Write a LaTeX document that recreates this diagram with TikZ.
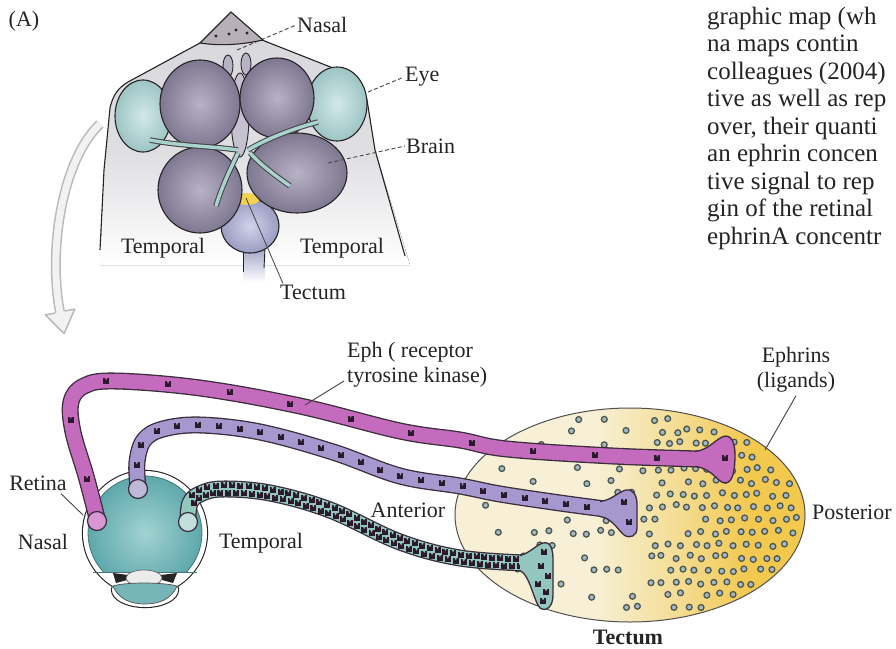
\documentclass[tikz,border=0pt]{standalone}
\usepackage{fontspec}
\setmainfont{Liberation Serif}
\usetikzlibrary{decorations.markings}

\definecolor{inkC}{HTML}{262326}
\definecolor{pinkT}{HTML}{C46BBE}
\definecolor{pinkS}{HTML}{D996D3}
\definecolor{purT}{HTML}{A698CF}
\definecolor{purS}{HTML}{BEB8D9}
\definecolor{tealT}{HTML}{94C6C0}
\definecolor{tealS}{HTML}{C2DEDD}
\definecolor{tubeline}{HTML}{3A2C3A}
\definecolor{rdark}{HTML}{2B1A2B}
\definecolor{eyeT}{HTML}{5EA8AC}
\definecolor{eyeL}{HTML}{A2D2D2}
\definecolor{tecL}{HTML}{F7F0D6}
\definecolor{tecM}{HTML}{F4DC92}
\definecolor{tecR}{HTML}{F2C84F}
\definecolor{dotF}{HTML}{A6B8CA}
\definecolor{dotR}{HTML}{4C584A}
\definecolor{lobeC}{HTML}{7E7790}
\definecolor{lobeL}{HTML}{B8B2C6}
\definecolor{hindC}{HTML}{9A9CC2}
\definecolor{hindL}{HTML}{D0D3EA}
\definecolor{nerveC}{HTML}{A9D3CE}
\definecolor{headG}{HTML}{D9D9DD}
\definecolor{noseC}{HTML}{B9AFB9}
\definecolor{spotY}{HTML}{F2D24E}
\definecolor{headEyeL}{HTML}{D2E8E8}
\definecolor{headEyeD}{HTML}{9EC4C4}

\pgfdeclarehorizontalshading{tecshade}{100bp}{color(0bp)=(tecL); color(45bp)=(tecL); color(57bp)=(tecM); color(67bp)=(tecR); color(100bp)=(tecR)}

\begin{document}
\begin{tikzpicture}[x=1pt,y=-1pt,
  lbl/.style={font=\fontsize{22}{25}\selectfont, inner sep=0pt, text=inkC},
  col/.style={font=\fontsize{25}{28}\selectfont, inner sep=0pt, anchor=base west, text=inkC},
  leader/.style={draw=inkC!85, line width=0.9pt},
  dashleader/.style={leader, dash pattern=on 4pt off 2.5pt},
  outl/.style={draw=inkC, line width=1.1pt},
  coneline/.style={draw=tubeline, line width=1.3pt},
  pics/rcp/.style={code={
    \fill[rdark] (-3,-3) rectangle (3,3);
    \fill[#1] (-1.2,-3.2) -- (0,-0.7) -- (1.2,-3.2) -- cycle;
  }},
]
\useasboundingbox (0,0) rectangle (896,648);
\fill[white] (0,0) rectangle (896,648);

%================ upper drawing: head seen from above ================
% head
\fill[top color=headG, bottom color=white, middle color=headG!85!white]
  (100,265) -- (104,170) -- (110,108) .. controls (113,95) and (118,88) .. (128,82)
  -- (200,43) -- (262,40) -- (333,68) .. controls (350,75) and (362,85) .. (367,100)
  -- (375,150) -- (410,265) -- cycle;
\draw[outl] (100,250) -- (104,170) -- (110,108) .. controls (113,95) and (118,88) .. (128,82) -- (200,43);
\draw[outl] (262,40) -- (333,68) .. controls (350,75) and (362,85) .. (367,100) -- (375,150) -- (405,256);
% snout
\filldraw[fill=noseC, draw=inkC, line width=1.1pt]
  (200,43) -- (231,12) -- (263,40) .. controls (240,45) and (220,46) .. (200,43) -- cycle;
\foreach \p in {(216,36),(236,30),(247,33),(229,34)} \fill[inkC] \p circle (1.6);

% eyes
\shade[inner color=headEyeL, outer color=headEyeD] (143,116) ellipse [x radius=28, y radius=36];
\draw[outl] (143,116) ellipse [x radius=28, y radius=36];
\shade[inner color=headEyeL, outer color=headEyeD] (337,104) ellipse [x radius=30, y radius=37];
\draw[outl] (337,104) ellipse [x radius=30, y radius=37];

% olfactory bulbs and midline
\filldraw[fill=lobeL, draw=inkC, line width=0.9pt] (228,66) ellipse [x radius=5, y radius=11];
\filldraw[fill=lobeL, draw=inkC, line width=0.9pt] (246,64) ellipse [x radius=5, y radius=11];
\filldraw[fill=lobeL!80!white, draw=inkC, line width=0.9pt] (240,115) ellipse [x radius=9, y radius=42];

% hindbrain and spinal cord
\shade[top color=hindC, bottom color=white] (243,245) rectangle (265,282);
\draw[inkC, line width=0.9pt] (243,248) -- (243,272);
\draw[inkC, line width=0.9pt] (265,248) -- (264,268);
\shade[inner color=hindL, outer color=hindC] (250,226) ellipse [x radius=29, y radius=27];
\draw[outl] (250,226) ellipse [x radius=29, y radius=27];
\fill[spotY] (247,199) ellipse [x radius=13, y radius=6];

% hemispheres and optic lobes
\shade[inner color=lobeL, outer color=lobeC] (200,104) ellipse [x radius=40, y radius=44];
\draw[outl] (200,104) ellipse [x radius=40, y radius=44];
\shade[inner color=lobeL, outer color=lobeC] (277,98) ellipse [x radius=37, y radius=40];
\draw[outl] (277,98) ellipse [x radius=37, y radius=40];
\shade[inner color=lobeL, outer color=lobeC] (200,190) ellipse [x radius=42, y radius=43];
\draw[outl] (200,190) ellipse [x radius=42, y radius=43];
\shade[inner color=lobeL, outer color=lobeC] (297,173) ellipse [x radius=50, y radius=40];
\draw[outl] (297,173) ellipse [x radius=50, y radius=40];

% optic nerves
\foreach \nv in {
  {(150,140) .. controls (180,146) and (210,146) .. (238,150)},
  {(318,122) .. controls (295,128) and (268,138) .. (248,150)},
  {(238,153) .. controls (230,170) and (222,186) .. (216,206)},
  {(250,153) .. controls (262,166) and (276,176) .. (290,186)}} {
  \draw[line width=5.5pt, inkC!85] \nv;
  \draw[line width=3.4pt, nerveC] \nv;
}

% curved arrow towards the lower drawing
\draw[line width=10pt, gray!55] (100,124) .. controls (62,160) and (48,250) .. (60,312);
\draw[line width=7pt, gray!10] (100,124) .. controls (62,160) and (48,250) .. (60,312);
\fill[gray!10] (45.3,314.9) -- (64.2,333.6) -- (74.7,309.1) -- cycle;
\draw[gray!55, line width=1.5pt, line join=round] (55.1,313) -- (45.3,314.9) -- (64.2,333.6) -- (74.7,309.1) -- (64.9,311);

% labels of the upper drawing
\node[lbl] (panelA) at (24,21) {(A)};
\node[lbl, anchor=west] (nasalT) at (297,25) {Nasal};
\node[lbl, anchor=west] (eyeT) at (405,77) {Eye};
\node[lbl, anchor=west] (brainT) at (406,146) {Brain};
\node[lbl] (tempTL) at (163,248) {Temporal};
\node[lbl] (tempTR) at (342,248) {Temporal};
\node[lbl] (tectumT) at (313,292) {Tectum};
\coordinate (nasalpt) at (237,50);
\coordinate (eyept) at (368,92);
\coordinate (brainpt) at (328,163);
\coordinate (tectpt) at (246,198);
\draw[dashleader] (nasalpt) -- ([xshift=-1pt]nasalT.west);
\draw[dashleader] (eyept) -- ([xshift=-1pt]eyeT.west);
\draw[dashleader] (brainpt) -- ([xshift=-1pt]brainT.west);
\draw[leader, line width=0.8pt] (tectpt) -- ([xshift=3pt,yshift=1pt]tectumT.north west);

%================ lower drawing: retinotectal map ================
% tectum
\shade[shading=tecshade] (630,515) ellipse [x radius=175, y radius=107];
\draw[inkC!80, line width=1pt] (630,515) ellipse [x radius=175, y radius=107];

% ephrin ligands, denser towards the posterior pole
\pgfmathsetseed{2718}
\foreach \gx in {0,...,27}{
  \foreach \gy in {0,...,17}{
    \pgfmathsetmacro\px{458+12.8*\gx+6.4*mod(\gy,2)+4.5*(rnd-0.5)}
    \pgfmathsetmacro\py{406+12.6*\gy+4.5*(rnd-0.5)}
    \pgfmathsetmacro\ex{(\px-630)/169}
    \pgfmathsetmacro\ey{(\py-515)/102}
    \pgfmathsetmacro\tx{max(0,(\px-470)/270)}
    \pgfmathsetmacro\pr{min(1,0.07+1.1*\tx*\tx)}
    \pgfmathsetmacro\rr{rnd}
    \pgfmathtruncatemacro\ok{and(\ex*\ex+\ey*\ey<1,\rr<\pr)}
    \ifnum\ok=1
      \filldraw[fill=dotF, draw=dotR, line width=1.3pt] (\px,\py) circle (2.9);
    \fi
  }
}

% retina
\draw[inkC, line width=2.2pt] (145,533) circle (62);
\draw[inkC, line width=2.2pt] (145,590) ellipse [x radius=33, y radius=17];
\fill[white] (145,533) circle (62) (145,590) ellipse [x radius=33, y radius=17];
\begin{scope}
  \clip (60,460) rectangle (230,572);
  \shade[inner color=eyeL, outer color=eyeT] (145,533) circle (57);
  \draw[eyeT!70!black, line width=0.8pt] (145,533) circle (57);
\end{scope}
\draw[eyeT!70!black, line width=0.8pt] (93,572) -- (197,572);
\fill[inkC] (113,573) -- (128,575) -- (127,580) -- (116,583) -- cycle;
\fill[inkC] (177,573) -- (161,575) -- (162,580) -- (173,583) -- cycle;
\filldraw[fill=gray!15, draw=inkC!70, line width=0.7pt] (144,578) ellipse [x radius=18, y radius=8];
\filldraw[fill=eyeT!85, draw=inkC!80, line width=0.7pt]
  (113,586) .. controls (125,582) and (163,582) .. (177,586)
  .. controls (171,600) and (158,604) .. (145,604)
  .. controls (132,604) and (119,600) .. (113,586) -- cycle;

% nasal axon (pink), sparse receptors
\path[draw=tubeline, line width=17pt,
  postaction={draw=pinkT, line width=14.4pt},
  postaction={decorate, decoration={markings,
    mark=between positions 40pt and -30pt step 62pt with {\pic{rcp=pinkT};}}}]
  plot[smooth, tension=0.6] coordinates {(97,518) (86,476) (73,432) (71,402) (84,386) (115,381)
    (200,388) (300,406) (400,431) (460,440) (507,449) (613,456) (700,459)};
\fill[pinkT] (695,451.5) .. controls (708,450) and (714,441) .. (722,437)
  .. controls (731,433) and (735,442) .. (735,455) .. controls (735,470) and (733,483) .. (725,483)
  .. controls (718,483) and (712,468) .. (695,466.5) -- cycle;
\draw[coneline] (695,451.5) .. controls (708,450) and (714,441) .. (722,437)
  .. controls (731,433) and (735,442) .. (735,455) .. controls (735,470) and (733,483) .. (725,483)
  .. controls (718,483) and (712,468) .. (695,466.5);
\pic at (725,458) {rcp=pinkT};

% intermediate axon (lavender)
\path[draw=tubeline, line width=17pt,
  postaction={draw=purT, line width=14.4pt},
  postaction={decorate, decoration={markings,
    mark=between positions 22pt and -8pt step 21pt with {\pic{rcp=purT};}}}]
  plot[smooth, tension=0.6] coordinates {(138,487) (137,462) (144,440) (163,429) (200,425)
    (260,432) (333,452) (400,476) (460,486) (500,494) (560,503) (605,509)};
\fill[purT] (600,501.5) .. controls (612,500) and (618,492) .. (626,490)
  .. controls (634,489) and (637,496) .. (637,505) -- (637,528)
  .. controls (637,536) and (630,539) .. (624,535) .. controls (618,530) and (612,518) .. (600,516.5) -- cycle;
\draw[coneline] (600,501.5) .. controls (612,500) and (618,492) .. (626,490)
  .. controls (634,489) and (637,496) .. (637,505) -- (637,528)
  .. controls (637,536) and (630,539) .. (624,535) .. controls (618,530) and (612,518) .. (600,516.5);
\pic at (624,502) {rcp=purT};
\pic at (629,522) {rcp=purT};

% temporal axon (teal), dense receptors
\path[draw=tubeline, line width=17pt,
  postaction={draw=tealT, line width=14.4pt},
  postaction={decorate, decoration={markings,
    mark=between positions 20pt and -4pt step 8pt with {\pic at (0,3.6) {rcp=tealT};}}},
  postaction={decorate, decoration={markings,
    mark=between positions 24pt and -4pt step 8pt with {\pic at (0,-3.6) {rcp=tealT};}}}]
  plot[smooth, tension=0.6] coordinates {(188,520) (190,503) (200,494) (222,489) (270,493)
    (330,510) (400,542) (460,558) (525,563)};
\fill[tealT] (520,555.5) .. controls (530,553) and (536,545) .. (543,543)
  .. controls (551,541) and (553,550) .. (553,560) -- (553,595)
  .. controls (553,607) and (546,612) .. (540,608) .. controls (534,602) and (530,575) .. (520,570.5) -- cycle;
\draw[coneline] (520,555.5) .. controls (530,553) and (536,545) .. (543,543)
  .. controls (551,541) and (553,550) .. (553,560) -- (553,595)
  .. controls (553,607) and (546,612) .. (540,608) .. controls (534,602) and (530,575) .. (520,570.5);
\foreach \q in {(544,552),(541,566),(548,576),(538,584),(546,592),(543,601)}
  \pic at \q {rcp=tealT};

% axon origins in the retina
\filldraw[fill=pinkS, draw=tubeline, line width=1.2pt] (97,521) circle (9.5);
\filldraw[fill=purS, draw=tubeline, line width=1.2pt] (138,489) circle (9.5);
\filldraw[fill=tealS, draw=tubeline, line width=1.2pt] (188,522) circle (9.5);

% labels of the lower drawing
\node[lbl] (retinaL) at (38,483) {Retina};
\node[lbl] (nasalL) at (43,542) {Nasal};
\node[lbl] (tempL) at (261,543) {Temporal};
\node[lbl] (anteriorL) at (408,510) {Anterior};
\node[lbl, anchor=west] (posteriorL) at (812,512) {Posterior};
\node[lbl, anchor=west] (ephL1) at (347,352) {Eph ( receptor};
\node[lbl, anchor=west] (ephL2) at (347,377) {tyrosine kinase)};
\node[lbl, align=center] (ephrinsL) at (796,370) {Ephrins\\(ligands)};
\node[lbl, font=\bfseries\fontsize{22}{25}\selectfont] (tectumL) at (628,637) {Tectum};
\coordinate (retpt) at (83,515);
\coordinate (ephpt) at (305,405);
\coordinate (ligpt) at (765,450);
\draw[leader] ([xshift=-6pt,yshift=-3pt]retinaL.south east) -- (retpt);
\draw[leader] ([xshift=-3pt,yshift=-4pt]ephL2.west) -- (ephpt);
\draw[leader] ([yshift=-3pt]ephrinsL.south) -- (ligpt);

%================ text column on the right ================
\begin{scope}
  \clip (0,0) rectangle (896,648);
  \node[col] (c1) at (707,24) {graphic map (wh};
  \node[col] (c2) at (707,51.5) {na maps contin};
  \node[col] (c3) at (707,79) {colleagues (2004)};
  \node[col] (c4) at (707,106.5) {tive as well as rep};
  \node[col] (c5) at (707,134) {over, their quanti};
  \node[col] (c6) at (707,161.5) {an ephrin concen};
  \node[col] (c7) at (707,189) {tive signal to rep};
  \node[col] (c8) at (707,216.5) {gin of the retinal};
  \node[col] (c9) at (707,244) {ephrinA concentr};
\end{scope}
\end{tikzpicture}
\end{document}
